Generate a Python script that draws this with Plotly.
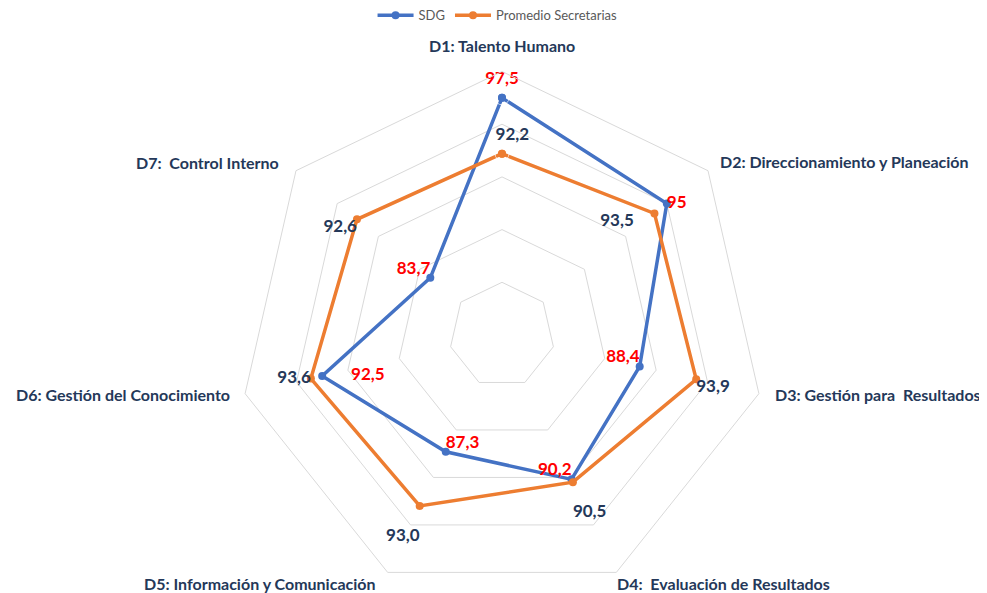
import math
import plotly.graph_objects as go

categories = [
    "D1: Talento Humano",
    "D2: Direccionamiento y Planeación",
    "D3: Gestión para\u00a0 Resultados",
    "D4:\u00a0 Evaluación de Resultados",
    "D5: Información y Comunicación",
    "D6: Gestión del Conocimiento",
    "D7:\u00a0 Control Interno",
]
sdg_values = [97.5, 95, 88.4, 90.2, 87.3, 92.5, 83.7]
prom_values = [92.2, 93.5, 93.9, 90.5, 93.0, 93.6, 92.6]

NB = "\u00a0"
sdg_text = [("{:g}".format(v)).replace(".", ",") for v in sdg_values]
prom_text = [("{:.1f}".format(v)).replace(".", ",") for v in prom_values]
# small spacing tweaks so labels sit like in the original
sdg_text[5] = NB * 7 + sdg_text[5]
prom_text[0] = NB * 5 + prom_text[0]
prom_text[1] = prom_text[1] + NB * 5
prom_text[3] = "<br>" + prom_text[3]
prom_text[4] = "<br>" + prom_text[4]

sdg_pos = ["top center", "middle right", "top left", "top left",
           "top right", "middle right", "top left"]
prom_pos = ["top center", "bottom left", "bottom right", "bottom right",
            "bottom left", "middle left", "bottom left"]
# invisible spacer sizes that push a few labels further from their point
sdg_gap = [14, 0, 0, 0, 0, 0, 0]
prom_gap = [14, 0, 0, 0, 0, 0, 0]

BLUE = "#4472C4"
ORANGE = "#ED7D31"
NAVY = "#243859"
RED = "#FF0000"
FONT = "Lato"

W, H = 987, 593
# polar geometry (pixels in figure space)
CX, CY, R = 494.0, 327.0, 263.5
dom_x = [(CX - R) / W, (CX + R) / W]
dom_y = [(H - CY - R) / H, (H - CY + R) / H]

fig = go.Figure()
fig.add_trace(go.Scatterpolar(
    r=sdg_values + [sdg_values[0]],
    theta=categories + [categories[0]],
    mode="lines+markers",
    name="SDG",
    line=dict(color=BLUE, width=3.5),
    marker=dict(color=BLUE, size=8),
))
fig.add_trace(go.Scatterpolar(
    r=prom_values + [prom_values[0]],
    theta=categories + [categories[0]],
    mode="lines+markers",
    name="Promedio Secretarias",
    line=dict(color=ORANGE, width=3.5),
    marker=dict(color=ORANGE, size=8),
))
# data labels
fig.add_trace(go.Scatterpolar(
    r=sdg_values, theta=categories, mode="markers+text", text=sdg_text,
    textposition=sdg_pos, showlegend=False, hoverinfo="skip",
    marker=dict(size=sdg_gap, color="rgba(0,0,0,0)"),
    textfont=dict(color=RED, size=17, family=FONT, weight="bold"),
))
fig.add_trace(go.Scatterpolar(
    r=prom_values, theta=categories, mode="markers+text", text=prom_text,
    textposition=prom_pos, showlegend=False, hoverinfo="skip",
    marker=dict(size=prom_gap, color="rgba(0,0,0,0)"),
    textfont=dict(color=NAVY, size=17, family=FONT, weight="bold"),
))

# category labels placed next to the outer polygon vertices
label_style = [  # xanchor, xshift, yshift(px, up positive)
    ("center", 0, 26),
    ("left", 10, 9),
    ("left", 14, -1),
    ("left", -1, -11),
    ("right", -10, -11),
    ("right", -13, -1),
    ("right", -15, 8),
]
annotations = []
n = len(categories)
for i, (cat, (xa, xs, ys)) in enumerate(zip(categories, label_style)):
    ang = math.radians(90 - i * 360.0 / n)
    vx = CX + R * math.cos(ang)
    vy = CY - R * math.sin(ang)
    annotations.append(dict(
        x=vx / W, y=1 - vy / H, xref="paper", yref="paper",
        text=cat, showarrow=False, xanchor=xa, yanchor="middle",
        xshift=xs, yshift=ys,
        font=dict(size=16, color=NAVY, family=FONT, weight="bold"),
    ))

fig.update_layout(
    width=W, height=H,
    paper_bgcolor="white", plot_bgcolor="white",
    margin=dict(l=0, r=0, t=0, b=0, autoexpand=False),
    font=dict(family=FONT),
    legend=dict(orientation="h", x=0.496, xanchor="center", y=1.013, yanchor="top",
                font=dict(size=13, color="#595959", family=FONT),
                itemwidth=36, tracegroupgap=0),
    annotations=annotations,
    polar=dict(
        domain=dict(x=dom_x, y=dom_y),
        bgcolor="white",
        gridshape="linear",
        radialaxis=dict(range=[75, 100], tickvals=[80, 85, 90, 95, 100],
                        showticklabels=False, ticks="", showline=False,
                        gridcolor="#D9D9D9", gridwidth=1),
        angularaxis=dict(direction="clockwise", rotation=90,
                         showgrid=False, linecolor="#D9D9D9", linewidth=1,
                         showticklabels=False, ticks=""),
    ),
)

fig.write_html("out.html")
